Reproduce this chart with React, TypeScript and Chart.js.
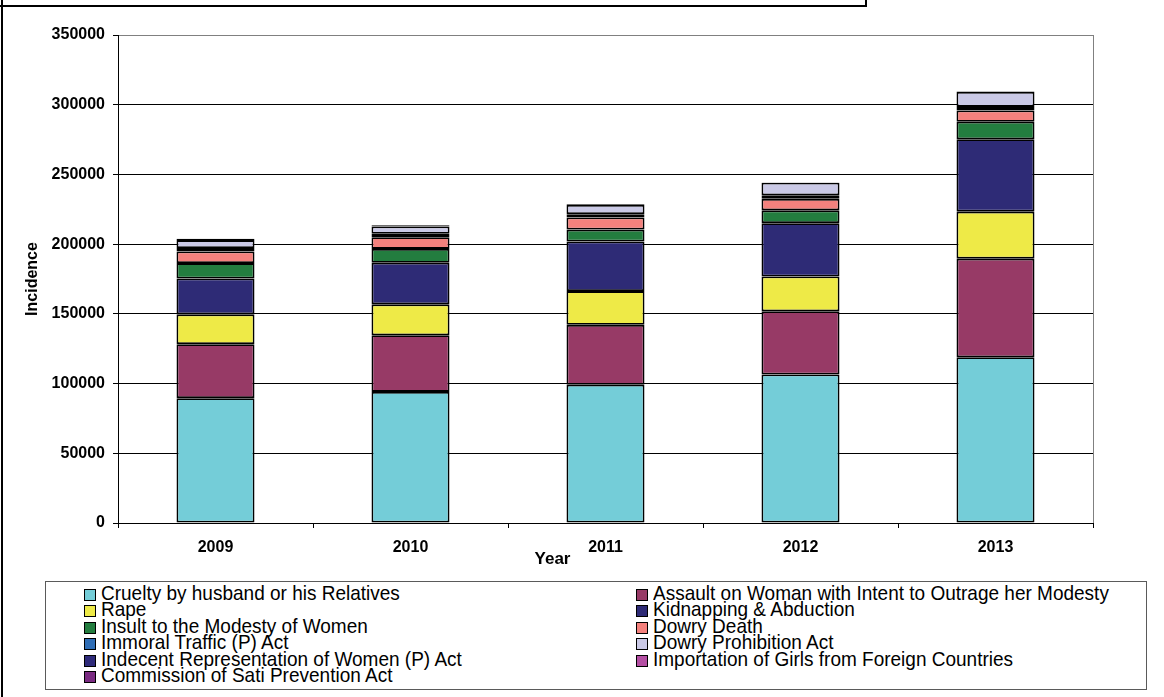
import React, { useEffect, useRef } from "react";
import { Chart, registerables } from "chart.js";

Chart.register(...registerables);

// ---- Data (NCRB, crimes against women in India) ----
const years = ["2009", "2010", "2011", "2012", "2013"];

const cruelty = [89546, 94041, 99135, 106527, 118866];
const assault = [38711, 40613, 42968, 45351, 70739];
const rape = [21397, 22172, 24206, 24923, 33707];
const kidnapping = [25741, 29795, 35565, 38262, 51881];
const insult = [11009, 9961, 8570, 9173, 12589];
const dowryDeath = [8383, 8391, 8618, 8233, 8083];
const immoralTraffic = [2474, 2499, 2435, 2563, 2579];
const dowryProhibition = [5650, 5182, 6619, 9038, 10709];
const indecentRep = [845, 895, 453, 141, 362];
const importation = [48, 36, 80, 59, 31];
const sati = [0, 0, 1, 0, 0];

const seriesNames = [
  "Cruelty by husband or his Relatives",
  "Assault on Woman with Intent to Outrage her Modesty",
  "Rape",
  "Kidnapping & Abduction",
  "Insult to the Modesty of Women",
  "Dowry Death",
  "Immoral Traffic (P) Act",
  "Dowry Prohibition Act",
  "Indecent Representation of Women (P) Act",
  "Importation of Girls from Foreign Countries",
  "Commission of Sati Prevention Act",
];
const seriesValues = [
  cruelty,
  assault,
  rape,
  kidnapping,
  insult,
  dowryDeath,
  immoralTraffic,
  dowryProhibition,
  indecentRep,
  importation,
  sati,
];
const seriesColors = [
  "#74CDD8",
  "#973A66",
  "#EEEA47",
  "#2E2B76",
  "#237D3F",
  "#F4817D",
  "#2F6DB5",
  "#CAC9E6",
  "#2E2A7A",
  "#B44FA3",
  "#7A2B82",
];

const yMin = 0;
const yMax = 350000;
const yStep = 50000;
const xTitle = "Year";
const yTitle = "Incidence";

const FONT = "'Liberation Sans', Arial, sans-serif";

const plotFrame = {
  id: "plotFrame",
  beforeDraw(chart: any) {
    const { ctx, chartArea: a } = chart;
    ctx.save();
    ctx.strokeStyle = "#808080";
    ctx.lineWidth = 1;
    ctx.strokeRect(
      Math.round(a.left) + 0.5,
      Math.round(a.top) + 0.5,
      Math.round(a.right - a.left),
      Math.round(a.bottom - a.top)
    );
    ctx.restore();
  },
};

const yearTitle = {
  id: "yearTitle",
  afterDraw(chart: any) {
    const { ctx, chartArea: a } = chart;
    ctx.save();
    ctx.font = `bold 17px ${FONT}`;
    ctx.fillStyle = "#000";
    ctx.textAlign = "center";
    ctx.textBaseline = "middle";
    ctx.fillText(xTitle, (a.left + a.right) / 2 - 53, a.bottom + 36);
    ctx.restore();
  },
};

function Legend() {
  const colX = [84, 636];
  return (
    <div
      style={{
        position: "absolute",
        left: 45,
        top: 581,
        width: 1100,
        height: 107,
        border: "1px solid #5a5a5a",
        background: "#fff",
      }}
    >
      {seriesNames.map((name, i) => {
        const row = Math.floor(i / 2);
        const col = i % 2;
        const top = 586 + row * 16.4 - 582;
        const left = colX[col] - 46;
        return (
          <div
            key={name}
            style={{
              position: "absolute",
              left,
              top,
              height: 16.4,
              whiteSpace: "nowrap",
            }}
          >
            <span
              style={{
                position: "absolute",
                left: 0,
                top: 3,
                width: 10,
                height: 10,
                border: "1px solid #000",
                background: seriesColors[i],
              }}
            />
            <span
              style={{
                position: "absolute",
                left: 17,
                top: 0,
                fontFamily: FONT,
                fontSize: 19,
                lineHeight: "16.4px",
                color: "#000",
                transform: "scaleY(1.07)",
                transformOrigin: "0 80%",
              }}
            >
              {name}
            </span>
          </div>
        );
      })}
    </div>
  );
}

export default function App() {
  const canvasRef = useRef<HTMLCanvasElement | null>(null);

  useEffect(() => {
    if (!canvasRef.current) return;
    const chart = new Chart(canvasRef.current, {
      type: "bar",
      data: {
        labels: years,
        datasets: seriesNames.map((name, i) => ({
          label: name,
          data: seriesValues[i],
          backgroundColor: seriesColors[i],
          borderColor: "#000",
          borderWidth: 1.8,
          borderSkipped: false,
          inflateAmount: 0,
          barPercentage: 0.4,
          categoryPercentage: 1,
        })),
      },
      options: {
        responsive: false,
        animation: false,
        devicePixelRatio: 1,
        layout: { padding: { left: 0, right: 71, top: 35, bottom: 0 } },
        plugins: {
          legend: { display: false },
          tooltip: { enabled: false },
        },
        scales: {
          x: {
            stacked: true,
            offset: true,
            grid: {
              offset: true,
              drawOnChartArea: false,
              drawTicks: true,
              tickLength: 5,
              color: "#000",
            },
            border: { display: true, color: "#000", width: 1 },
            ticks: {
              color: "#000",
              font: { family: FONT, size: 16, weight: "bold" },
              padding: 10,
              maxRotation: 0,
              autoSkip: false,
            },
            afterFit: (s: any) => {
              s.height = 174;
            },
          },
          y: {
            stacked: true,
            min: yMin,
            max: yMax,
            ticks: {
              stepSize: yStep,
              color: "#000",
              font: { family: FONT, size: 16, weight: "bold" },
              padding: 8,
              callback: (v: any) => String(v),
            },
            grid: {
              color: (c: any) =>
                c.tick && c.tick.value === yMax ? "#808080" : "#000",
              tickColor: "#000",
              tickLength: 5,
              lineWidth: 1,
            },
            border: { display: true, color: "#000", width: 1 },
            title: {
              display: true,
              text: yTitle,
              color: "#000",
              font: { family: FONT, size: 16, weight: "bold" },
              padding: { top: 23, bottom: 0 },
            },
            afterFit: (s: any) => {
              s.width = 118;
            },
          },
        },
      } as any,
      plugins: [plotFrame, yearTitle],
    });
    return () => chart.destroy();
  }, []);

  return (
    <div
      style={{
        position: "fixed",
        left: 0,
        top: 0,
        width: 1164,
        height: 697,
        background: "#fff",
        overflow: "hidden",
      }}
    >
      <canvas
        ref={canvasRef}
        width={1164}
        height={697}
        style={{ position: "absolute", left: 0, top: 0 }}
      />
      <div style={{ position: "absolute", left: 0, top: 5, width: 867, height: 2, background: "#000" }} />
      <div style={{ position: "absolute", left: 865, top: 0, width: 2, height: 7, background: "#000" }} />
      <div style={{ position: "absolute", left: 1, top: 0, width: 2, height: 697, background: "#000" }} />
      <Legend />
    </div>
  );
}
